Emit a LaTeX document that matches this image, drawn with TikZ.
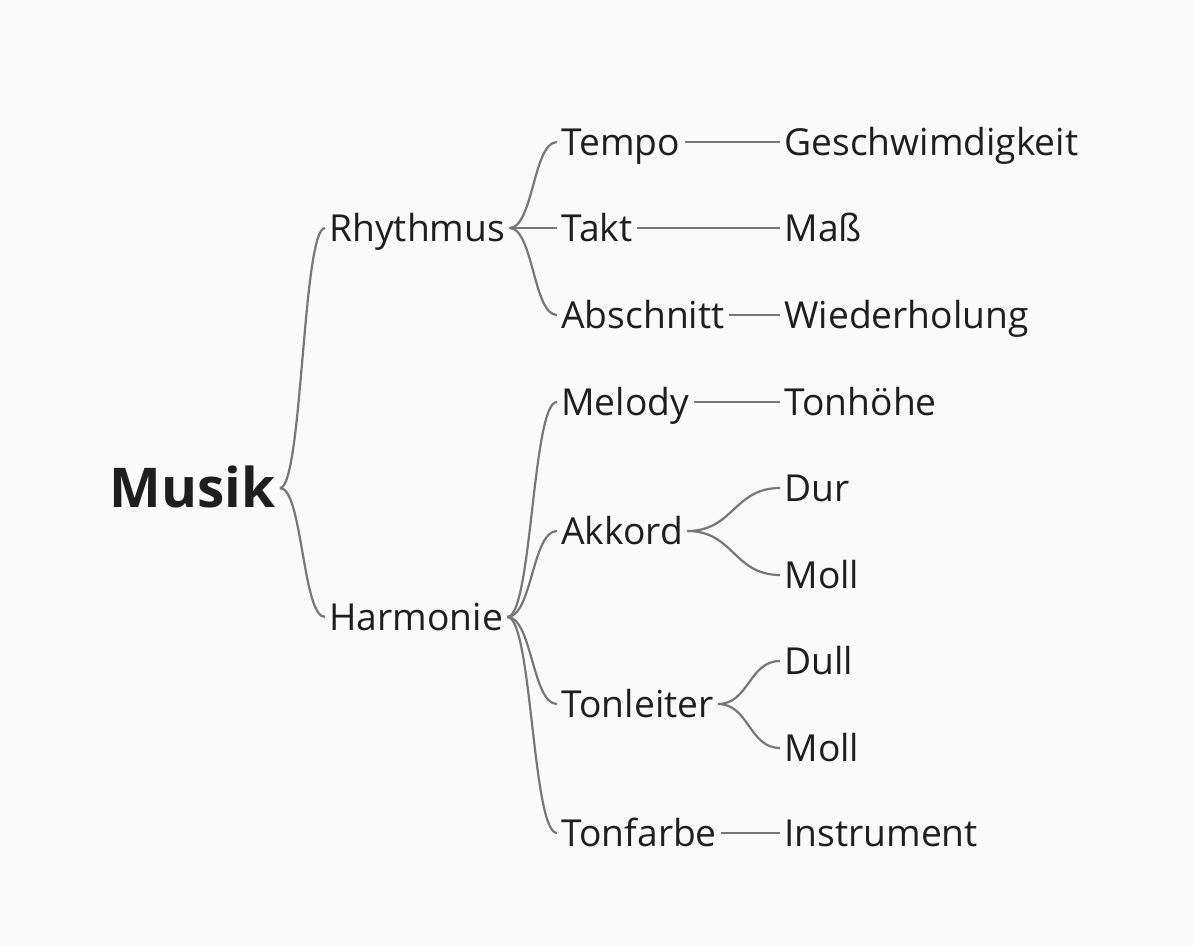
\documentclass[tikz,border=0pt]{standalone}
\usepackage{fontspec}
\setmainfont{Open Sans}
\usetikzlibrary{calc}
\definecolor{paper}{HTML}{FAFAFA}
\definecolor{ink}{HTML}{1E1E1E}
\definecolor{wire}{HTML}{777777}
\tikzset{
  word/.style={inner xsep=2pt, inner ysep=0pt, text height=13.2pt, text depth=0pt,
    anchor=west, text=ink, font=\fontsize{18.6}{22}\selectfont},
  root/.style={word, anchor=east, text height=20pt, font=\fontsize{27.4}{32}\selectfont\bfseries},
  branch/.style={draw=wire, line width=1.1pt,
    to path={.. controls ($(\tikztostart)!.5!(\tikztostart -| \tikztotarget)$)
      and ($(\tikztotarget)!.5!(\tikztotarget -| \tikztostart)$) .. (\tikztotarget)}}
}
\begin{document}
\begin{tikzpicture}[x=0.5pt,y=-0.5pt]
\useasboundingbox[fill=paper] (0,0) rectangle (1194,946);
\node[root] (M) at (280,488) {Musik};
\node[word] (R) at (325,228) {Rhythmus};
\node[word] (H) at (325,617) {Harmonie};
\node[word] (Te) at (557,142) {Tempo};
\node[word] (Ta) at (557,228) {Takt};
\node[word] (Ab) at (557,315) {Abschnitt};
\node[word] (Me) at (557,402) {Melody};
\node[word] (Ak) at (557,531) {Akkord};
\node[word] (Tl) at (557,704) {Tonleiter};
\node[word] (Tf) at (557,833) {Tonfarbe};
\node[word] (Ge) at (780,142) {Geschwimdigkeit};
\node[word] (Ma) at (780,228) {Maß};
\node[word] (Wi) at (780,315) {Wiederholung};
\node[word] (To) at (780,402) {Tonhöhe};
\node[word] (Du) at (780,488) {Dur};
\node[word] (Mo1) at (780,575) {Moll};
\node[word] (Dl) at (780,661) {Dull};
\node[word] (Mo2) at (780,748) {Moll};
\node[word] (In) at (780,833) {Instrument};
\draw[branch] (M.east) to (R.west);
\draw[branch] (M.east) to (H.west);
\draw[branch] (R.east) to (Te.west);
\draw[branch] (R.east) to (Ta.west);
\draw[branch] (R.east) to (Ab.west);
\draw[branch] (H.east) to (Me.west);
\draw[branch] (H.east) to (Ak.west);
\draw[branch] (H.east) to (Tl.west);
\draw[branch] (H.east) to (Tf.west);
\draw[branch] (Te.east) to (Ge.west);
\draw[branch] (Ta.east) to (Ma.west);
\draw[branch] (Ab.east) to (Wi.west);
\draw[branch] (Me.east) to (To.west);
\draw[branch] (Ak.east) to (Du.west);
\draw[branch] (Ak.east) to (Mo1.west);
\draw[branch] (Tl.east) to (Dl.west);
\draw[branch] (Tl.east) to (Mo2.west);
\draw[branch] (Tf.east) to (In.west);
\end{tikzpicture}
\end{document}
